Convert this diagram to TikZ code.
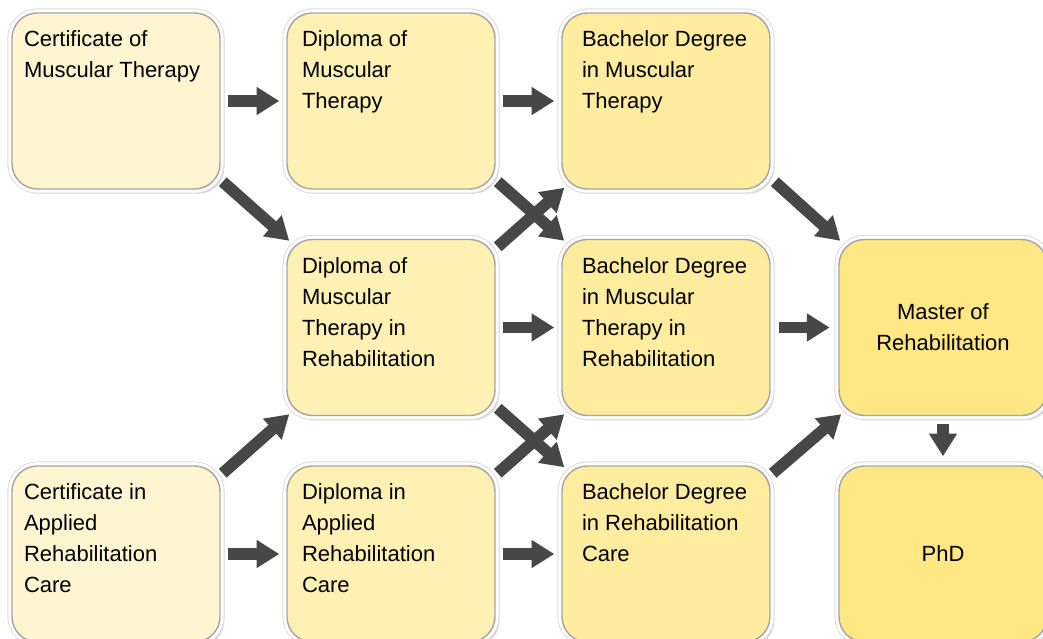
\documentclass[tikz,border=0pt]{standalone}
\usepackage{fontspec}
\setmainfont{Liberation Sans}
\usepackage{tikz}
\usetikzlibrary{arrows.meta,shadows}
\definecolor{lvlA}{HTML}{FFF6D1}
\definecolor{lvlB}{HTML}{FFF1B3}
\definecolor{lvlC}{HTML}{FFEC9E}
\definecolor{lvlD}{HTML}{FFE784}
\newcommand{\boxtxt}[2][6pt]{\parbox[c][132pt][t]{150pt}{\raggedright\leftskip=#1\vspace*{13.5pt}#2}}

\begin{document}
\begin{tikzpicture}[x=0.75pt,y=-0.75pt,
  course/.style={rounded corners=19pt,minimum width=156pt,minimum height=132pt,inner sep=0pt,
    draw=black!35,line width=1.1pt,fill=#1,
    drop shadow={shadow xshift=2pt,shadow yshift=-2.5pt,opacity=.3,shadow scale=1.015},
    preaction={draw=black!13,line width=7pt},
    preaction={draw=white,line width=5.4pt},
    font=\fontsize{16.5}{23.25}\selectfont},
  arr/.style={draw=black!72,line width=8.75pt,-{Triangle[length=17pt,width=20pt]}}]
\useasboundingbox (0,0) rectangle (1043,639);
\clip (0,0) rectangle (1043,639);
\fill[white] (0,0) rectangle (1043,639);

\node[course=lvlA] (cmt)  at (116,101)   {\boxtxt{Certificate of\\Muscular Therapy}};
\node[course=lvlB] (dmt)  at (391,101)   {\boxtxt[8.25pt]{Diploma of\\Muscular\\Therapy}};
\node[course=lvlC] (bmt)  at (666,101)   {\boxtxt[12pt]{Bachelor Degree\\in Muscular\\Therapy}};
\node[course=lvlB] (dmtr) at (391,327.5) {\boxtxt[8.25pt]{Diploma of\\Muscular\\Therapy in\\Rehabilitation}};
\node[course=lvlC] (bmtr) at (666,327.5) {\boxtxt[12pt]{Bachelor Degree\\in Muscular\\Therapy in\\Rehabilitation}};
\node[course=lvlA] (car)  at (116,554)   {\boxtxt{Certificate in\\Applied\\Rehabilitation\\Care}};
\node[course=lvlB] (dar)  at (391,554)   {\boxtxt[8.25pt]{Diploma in\\Applied\\Rehabilitation\\Care}};
\node[course=lvlC] (brc)  at (666,554)   {\boxtxt[12pt]{Bachelor Degree\\in Rehabilitation\\Care}};
\node[course=lvlD,align=center] (mr)  at (943,327.5) {Master of\\Rehabilitation};
\node[course=lvlD,align=center] (phd) at (943,554)   {PhD};

\draw[arr,shorten <=5.25pt,shorten >=5.25pt] (cmt.east) -- (dmt.west);
\draw[arr,shorten <=5.25pt,shorten >=5.25pt] (dmt.east) -- (bmt.west);
\draw[arr,shorten <=5.25pt,shorten >=5.25pt] (dmtr.east) -- (bmtr.west);
\draw[arr,shorten <=6.5pt,shorten >=6.5pt] (bmtr.east) -- (mr.west);
\draw[arr,shorten <=5.25pt,shorten >=5.25pt] (car.east) -- (dar.west);
\draw[arr,shorten <=5.25pt,shorten >=5.25pt] (dar.east) -- (brc.west);
\draw[arr] ([shift={(2,-8)}]cmt.south east) -- ([shift={(3,2)}]dmtr.north west);
\draw[arr] ([shift={(2,-8)}]dmt.south east) -- ([shift={(3,2)}]bmtr.north west);
\draw[arr] ([shift={(2,8)}]dmtr.north east) -- ([shift={(3,-2)}]bmt.south west);
\draw[arr] ([shift={(2,-8)}]dmtr.south east) -- ([shift={(3,2)}]brc.north west);
\draw[arr] ([shift={(2,8)}]dar.north east) -- ([shift={(3,-2)}]bmtr.south west);
\draw[arr] ([shift={(2,8)}]car.north east) -- ([shift={(3,-2)}]dmtr.south west);
\draw[arr] ([shift={(4,-8)}]bmt.south east) -- ([shift={(2,2)}]mr.north west);
\draw[arr] ([shift={(2,8)}]brc.north east) -- ([shift={(3,-2)}]mr.south west);
\draw[arr,shorten <=6pt,shorten >=6.75pt] (mr.south) -- (phd.north);
\end{tikzpicture}
\end{document}
